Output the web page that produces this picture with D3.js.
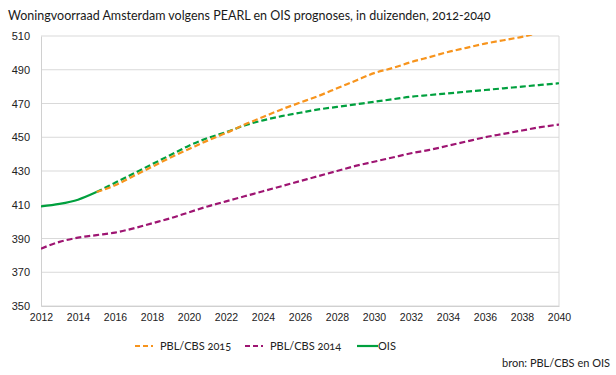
<!DOCTYPE html>
<html>
<head>
<meta charset="utf-8">
<script src="https://cdn.jsdelivr.net/npm/d3@7"></script>
<style>
  body { margin: 0; background: #fff; }
  svg { font-family: Lato, "Open Sans", sans-serif; font-feature-settings: "onum"; }
</style>
</head>
<body>
<svg id="chart" width="616" height="375"></svg>
<script>
// jaren en reeksen (in duizenden woningen)
const years = d3.range(2012, 2041);
const oisYears = years;
const ois = [409, 410.5, 413, 417.5, 423, 428.5, 434, 439.5, 445, 449.5, 453, 457, 460, 462.5, 464.5,
             466.5, 468, 469.5, 471, 472.5, 474, 475, 476, 477, 478, 479, 480, 481, 482];
const pbl2015Years = d3.range(2015, 2041);
const pbl2015 = [417.5, 421.5, 427, 432.5, 438, 443, 448, 452.5, 457.5, 462, 466.5, 470.5, 474.5,
                 479, 483.5, 488, 491, 494.5, 497.5, 500.5, 503, 505.5, 507.5, 509.5, 512, 514];
const pbl2014 = [384, 388, 390.5, 392, 393.5, 396, 399, 402, 405.5, 409, 412, 415, 418, 421, 424,
                 427, 430, 433, 435.5, 438, 440.5, 442.5, 445, 447.5, 450, 452, 454, 456, 457.5];
const yTicks = [350, 370, 390, 410, 430, 450, 470, 490, 510];
const xTicks = d3.range(2012, 2041, 2);

const svg = d3.select("#chart");
const margin = {top: 36, right: 57, bottom: 69, left: 41};
const width = 616 - margin.left - margin.right,
      height = 375 - margin.top - margin.bottom;

const colors = {pbl2015: "#F7941D", pbl2014: "#9E1572", ois: "#00A03E"};

svg.append("text")
   .attr("x", 8).attr("y", 20)
   .attr("font-size", 12.5)
   .attr("fill", "#1a1a1a")
   .text("Woningvoorraad Amsterdam volgens PEARL en OIS prognoses, in duizenden, 2012-2040");

const g = svg.append("g").attr("transform", `translate(${margin.left},${margin.top})`);

const x = d3.scaleLinear().domain([2012, 2040]).range([0, width]);
const y = d3.scaleLinear().domain([350, 510]).range([height, 0]);

// rasterlijnen
g.append("g")
 .selectAll("line")
 .data(yTicks)
 .enter().append("line")
   .attr("x1", 0).attr("x2", width)
   .attr("y1", d => y(d)).attr("y2", d => y(d))
   .attr("stroke", "#d9d9d9");

g.append("line").attr("x1", width).attr("x2", width).attr("y1", 0).attr("y2", height)
 .attr("stroke", "#d9d9d9");

// assen
const yAxis = g.append("g")
  .call(d3.axisLeft(y).tickValues(yTicks).tickSize(0).tickPadding(11));
yAxis.select(".domain").attr("stroke", "#d0d0d0");
yAxis.selectAll("text").attr("font-size", 11).attr("fill", "#222").attr("font-family", null);

const xAxis = g.append("g")
  .attr("transform", `translate(0,${height})`)
  .call(d3.axisBottom(x).tickValues(xTicks).tickFormat(d3.format("d")).tickSize(0).tickPadding(8));
xAxis.select(".domain").attr("stroke", "#d0d0d0");
xAxis.selectAll("text").attr("font-size", 10.5).attr("fill", "#222").attr("font-family", null);

g.append("clipPath").attr("id", "clip")
 .append("rect").attr("x", 0).attr("y", -1).attr("width", width).attr("height", height + 2);

const line = d3.line().x(d => x(d[0])).y(d => y(d[1])).curve(d3.curveMonotoneX);

const lines = g.append("g").attr("clip-path", "url(#clip)");

// OIS: gerealiseerd (doorgetrokken) t/m 2015, daarna prognose (gestippeld)
const oisPts = oisYears.map((yr, i) => [yr, ois[i]]);
lines.append("path")
  .attr("d", line(oisPts.filter(d => d[0] >= 2015)))
  .attr("fill", "none").attr("stroke", colors.ois).attr("stroke-width", 2.2)
  .attr("stroke-dasharray", "6,3");
lines.append("path")
  .attr("d", line(years.map((yr, i) => [yr, pbl2014[i]])))
  .attr("fill", "none").attr("stroke", colors.pbl2014).attr("stroke-width", 2.2)
  .attr("stroke-dasharray", "6,3");
lines.append("path")
  .attr("d", line(pbl2015Years.map((yr, i) => [yr, pbl2015[i]])))
  .attr("fill", "none").attr("stroke", colors.pbl2015).attr("stroke-width", 2.2)
  .attr("stroke-dasharray", "6,3");
lines.append("path")
  .attr("d", line(oisPts.filter(d => d[0] <= 2015)))
  .attr("fill", "none").attr("stroke", colors.ois).attr("stroke-width", 2.2);

// legenda
const legend = [
  {label: "PBL/CBS 2015", color: colors.pbl2015, dash: "5,3", x: 135},
  {label: "PBL/CBS 2014", color: colors.pbl2014, dash: "5,3", x: 245},
  {label: "OIS", color: colors.ois, dash: null, x: 357}
];
const lg = svg.append("g").selectAll("g").data(legend).enter().append("g")
  .attr("transform", d => `translate(${d.x},346)`);
lg.append("line").attr("x1", 0).attr("x2", d => d.dash ? 18 : 21).attr("y1", 0).attr("y2", 0)
  .attr("stroke", d => d.color).attr("stroke-width", 2.2)
  .attr("stroke-dasharray", d => d.dash);
lg.append("text").attr("x", d => d.dash ? 25 : 21).attr("y", 4)
  .attr("font-size", 11).attr("fill", "#222").text(d => d.label);

svg.append("text")
   .attr("x", 610).attr("y", 367)
   .attr("text-anchor", "end")
   .attr("font-size", 11).attr("fill", "#222")
   .text("bron: PBL/CBS en OIS");
</script>
</body>
</html>
